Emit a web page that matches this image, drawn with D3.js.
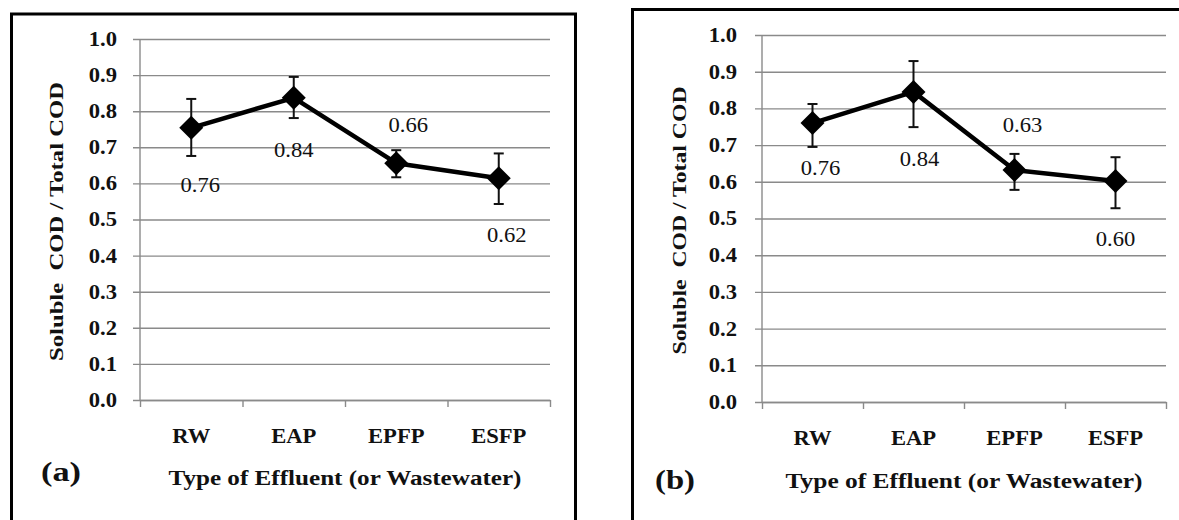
<!DOCTYPE html>
<html>
<head>
<meta charset="utf-8">
<script src="https://cdn.jsdelivr.net/npm/d3@7"></script>
<style>
  body { margin: 0; background: #fff; }
  svg { display: block; }
  svg text { font-family: "Liberation Serif", "DejaVu Serif", serif !important; }
</style>
</head>
<body>
<svg id="chart" width="1179" height="520"></svg>
<script>
// data
const categories = ["RW", "EAP", "EPFP", "ESFP"];
const yTicks = [0, 0.1, 0.2, 0.3, 0.4, 0.5, 0.6, 0.7, 0.8, 0.9, 1.0];

const ratioA = [0.754, 0.837, 0.656, 0.614];
const errHighA = [0.834, 0.895, 0.692, 0.683];
const errLowA = [0.676, 0.781, 0.617, 0.543];
const labelsA = ["0.76", "0.84", "0.66", "0.62"];

const ratioB = [0.760, 0.845, 0.632, 0.602];
const errHighB = [0.812, 0.929, 0.676, 0.667];
const errLowB = [0.695, 0.749, 0.578, 0.528];
const labelsB = ["0.76", "0.84", "0.63", "0.60"];

const yTitle = "Soluble  COD / Total COD";
const xTitle = "Type of Effluent (or Wastewater)";

const stretch = 1.13;   // the scanned fonts are a bit wider than Times

const panels = [
  {tag: "(a)", ratio: ratioA, hi: errHighA, lo: errLowA, labels: labelsA,
   left: 140, right: 550, top: 39, bottom: 400,
   frame: {x: 11.5, y: 14, w: 564, h: 520},
   tickPad: 16, yTitleX: 63, yTitleLen: 279,
   xTitleY: 485, xTitleLen: 353, tagX: 41, tagY: 481,
   labelDx: [9, 0, 12, 8], labelDy: [64, 59, -31, 64]},
  {tag: "(b)", ratio: ratioB, hi: errHighB, lo: errLowB, labels: labelsB,
   left: 762, right: 1166, top: 35, bottom: 402,
   frame: {x: 632.5, y: 9.5, w: 600, h: 520},
   tickPad: 18, yTitleX: 686, yTitleLen: 268,
   xTitleY: 488, xTitleLen: 357, tagX: 655, tagY: 489,
   labelDx: [8, 6, 8, 0], labelDy: [52, 74, -38, 65]}
];

const svg = d3.select("#chart");

function widen(sel, len) {
  sel.each(function() {
    const l = len || this.getComputedTextLength() * stretch;
    d3.select(this).attr("textLength", l).attr("lengthAdjust", "spacingAndGlyphs");
  });
}

panels.forEach(drawPanel);

function drawPanel(p) {
  const g = svg.append("g");

  g.append("rect")
    .attr("x", p.frame.x).attr("y", p.frame.y)
    .attr("width", p.frame.w).attr("height", p.frame.h)
    .attr("fill", "none").attr("stroke", "#000").attr("stroke-width", 3);

  const y = d3.scaleLinear().domain([0, 1]).range([p.bottom, p.top]);
  const x = d3.scaleBand().domain(categories).range([p.left, p.right]);
  const xEdge = d3.scaleLinear().domain([0, categories.length]).range([p.left, p.right]);
  const cx = c => x(c) + x.bandwidth() / 2;

  // gridlines + y labels
  const yAxis = g.append("g")
    .attr("transform", `translate(${p.left - 7},0)`)
    .call(d3.axisLeft(y).tickValues(yTicks).tickFormat(d3.format(".1f"))
      .tickSize(-(p.right - p.left + 7)).tickPadding(p.tickPad));
  yAxis.select(".domain").remove();
  yAxis.selectAll("line").attr("stroke", "#8a8a8a").attr("stroke-width", 1.4);
  yAxis.selectAll("text")
    .attr("fill", "#111").style("font-size", "20px").style("font-weight", "bold")
    .call(widen);

  g.append("line")
    .attr("x1", p.left).attr("x2", p.left).attr("y1", p.top).attr("y2", p.bottom)
    .attr("stroke", "#8a8a8a").attr("stroke-width", 1.4);

  // x axis: boundary ticks
  const xAxis = g.append("g")
    .attr("transform", `translate(0,${p.bottom})`)
    .call(d3.axisBottom(xEdge).tickValues(d3.range(categories.length + 1))
      .tickFormat("").tickSizeInner(7).tickSizeOuter(0));
  xAxis.selectAll("line, path").attr("stroke", "#8a8a8a").attr("stroke-width", 1.4);

  const xLab = g.append("g")
    .attr("transform", `translate(0,${p.bottom})`)
    .call(d3.axisBottom(x).tickSize(0));
  xLab.select(".domain").remove();
  xLab.selectAll("text")
    .attr("y", 43).attr("dy", 0)
    .attr("fill", "#111").style("font-size", "20px").style("font-weight", "bold")
    .call(widen);

  // error bars
  categories.forEach((c, i) => {
    const eb = g.append("g").attr("stroke", "#111").attr("stroke-width", 2);
    eb.append("line").attr("x1", cx(c)).attr("x2", cx(c))
      .attr("y1", y(p.hi[i])).attr("y2", y(p.lo[i]));
    [p.hi[i], p.lo[i]].forEach(v => {
      eb.append("line").attr("x1", cx(c) - 5).attr("x2", cx(c) + 5)
        .attr("y1", y(v)).attr("y2", y(v));
    });
  });

  // line
  const line = d3.line().x((d, i) => cx(categories[i])).y(d => y(d));
  g.append("path")
    .attr("d", line(p.ratio))
    .attr("fill", "none").attr("stroke", "#000").attr("stroke-width", 4.5)
    .attr("stroke-linejoin", "round");

  // diamond markers
  g.selectAll(".mk").data(p.ratio).join("path")
    .attr("class", "mk")
    .attr("d", (d, i) => {
      const px = cx(categories[i]), py = y(d);
      return `M${px},${py - 12}L${px + 12},${py}L${px},${py + 12}L${px - 12},${py}Z`;
    })
    .attr("fill", "#000");

  // value labels
  g.selectAll(".vl").data(p.labels).join("text")
    .attr("class", "vl")
    .attr("x", (d, i) => cx(categories[i]) + p.labelDx[i])
    .attr("y", (d, i) => y(p.ratio[i]) + p.labelDy[i])
    .attr("text-anchor", "middle")
    .attr("fill", "#111").style("font-size", "20px")
    .text(d => d)
    .call(widen);

  // axis titles
  g.append("text")
    .attr("transform", `translate(${p.yTitleX},${(p.top + p.bottom) / 2 + 2}) rotate(-90)`)
    .attr("text-anchor", "middle")
    .style("font-size", "19px").style("font-weight", "bold").style("white-space", "pre")
    .attr("fill", "#111")
    .text(yTitle)
    .call(widen, p.yTitleLen);

  g.append("text")
    .attr("x", (p.left + p.right) / 2).attr("y", p.xTitleY)
    .attr("text-anchor", "middle")
    .style("font-size", "20px").style("font-weight", "bold")
    .attr("fill", "#111")
    .text(xTitle)
    .call(widen, p.xTitleLen);

  g.append("text")
    .attr("x", p.tagX).attr("y", p.tagY)
    .style("font-size", "27px").style("font-weight", "bold")
    .attr("fill", "#111")
    .text(p.tag)
    .call(widen, 40);
}
</script>
</body>
</html>
